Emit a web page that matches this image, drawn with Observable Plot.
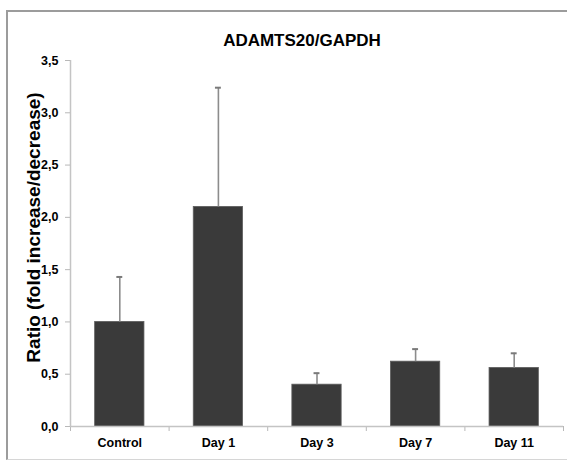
<!DOCTYPE html>
<html>
<head>
<meta charset="utf-8">
<script src="https://cdn.jsdelivr.net/npm/d3@7"></script>
<script src="https://cdn.jsdelivr.net/npm/@observablehq/plot@0.6"></script>
<style>
  html, body { margin: 0; padding: 0; background: #fff; }
  #wrap { position: relative; width: 567px; height: 464px; overflow: hidden; background: #fff; }
  #frame { position: absolute; left: 6px; top: 10px; width: 640px; height: 447px;
           border-left: 2px solid #9c9c9c; border-top: 2px solid #9c9c9c; border-bottom: 1px solid #d6d6d6; }
  #title { position: absolute; top: 32px; left: 0; width: 604px; text-align: center;
           font: bold 17px "Liberation Sans", Arial, sans-serif; line-height: 1; color: #000; }
  #chart { position: absolute; top: 50px; left: 0; }
</style>
</head>
<body>
<div id="wrap">
  <div id="frame"></div>
  <div id="title">ADAMTS20/GAPDH</div>
  <div id="chart"></div>
</div>
<script>
const categories = ["Control", "Day 1", "Day 3", "Day 7", "Day 11"];
const values = [1.0, 2.1, 0.4, 0.62, 0.56];
const errors = [0.43, 1.14, 0.11, 0.12, 0.14];
const yTicks = [0, 0.5, 1, 1.5, 2, 2.5, 3, 3.5];
const yLabel = "Ratio (fold increase/decrease)";

const data = categories.map((c, i) => ({ i, category: c, value: values[i], upper: values[i] + errors[i] }));
const boundaries = [-0.5, ...categories.map((_, i) => i + 0.5)];
const half = 0.25;   // half bar width in band units
const cap = 0.03;    // half cap width in band units

const font = "Liberation Sans, Arial, sans-serif";

const chart = Plot.plot({
  width: 567,
  height: 414,
  marginTop: 10,
  marginBottom: 38,
  marginLeft: 70,
  marginRight: 4,
  style: { fontFamily: font, background: "transparent", overflow: "visible" },
  x: { type: "linear", domain: [-0.5, categories.length - 0.5] },
  y: { domain: [0, 3.5] },
  marks: [
    Plot.ruleX([-0.5], { stroke: "#c4c4c4", strokeWidth: 1.5 }),
    Plot.axisY({
      ticks: yTicks,
      tickSize: 5,
      tickPadding: 7,
      tickFormat: d => d.toFixed(1).replace(".", ","),
      stroke: "#b8b8b8",
      fill: "#000",
      fontSize: 12.5,
      fontWeight: "bold",
      label: null
    }),
    Plot.axisX({
      ticks: boundaries,
      tickSize: 5,
      tickFormat: () => "",
      stroke: "#b8b8b8",
      label: null
    }),
    Plot.axisX({
      ticks: categories.map((_, i) => i),
      tickSize: 0,
      tickPadding: 12,
      tickFormat: i => categories[i],
      fill: "#000",
      fontSize: 12.5,
      fontWeight: "bold",
      label: null
    }),
    Plot.rectY(data, {
      x1: d => d.i - half,
      x2: d => d.i + half,
      y: "value",
      fill: "#3a3a3a",
      stroke: "#5e5e5e",
      strokeWidth: 0.8
    }),
    Plot.ruleX(data, { x: "i", y1: "value", y2: "upper", stroke: "#8c8c8c", strokeWidth: 1.6 }),
    Plot.ruleY(data, { y: "upper", x1: d => d.i - cap, x2: d => d.i + cap, stroke: "#7a7a7a", strokeWidth: 2 }),
    Plot.ruleY([0], { stroke: "#c4c4c4", strokeWidth: 1.5 }),
    Plot.text([yLabel], {
      frameAnchor: "left",
      rotate: -90,
      dx: -37,
      dy: -16,
      fontSize: 19,
      fontWeight: "bold",
      fill: "#000",
      textAnchor: "middle"
    })
  ]
});
document.getElementById("chart").appendChild(chart);
</script>
</body>
</html>
